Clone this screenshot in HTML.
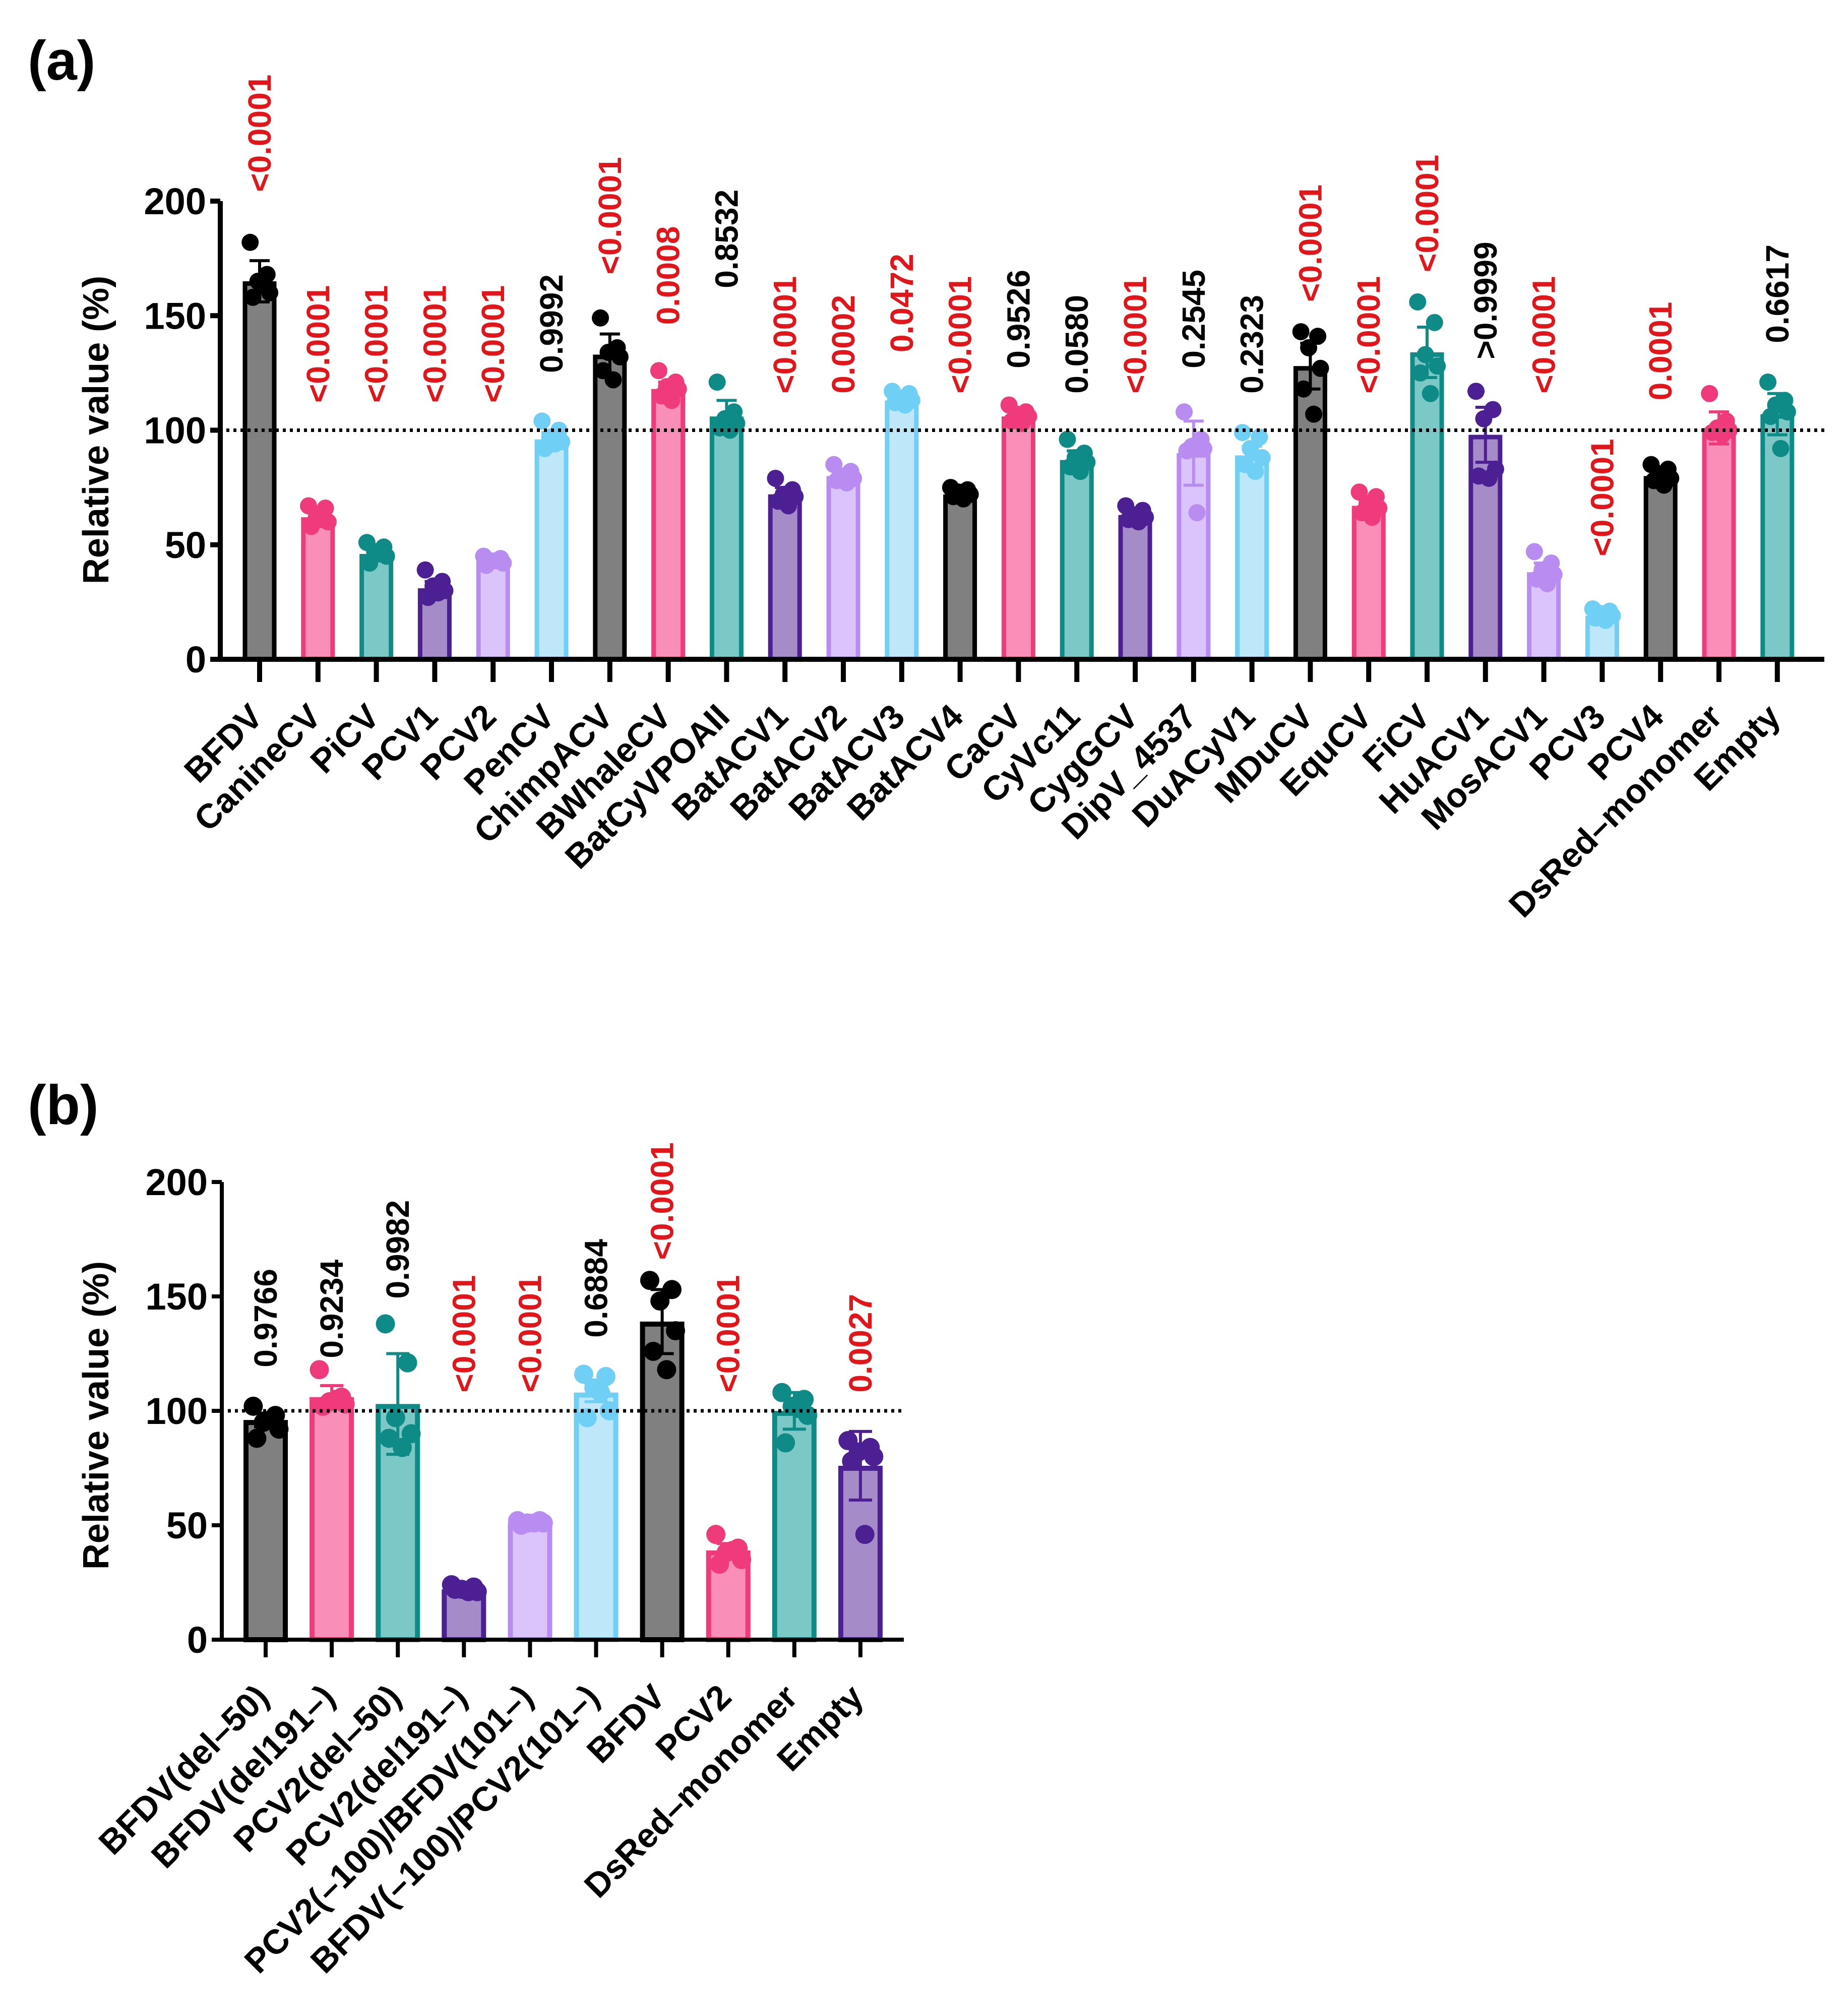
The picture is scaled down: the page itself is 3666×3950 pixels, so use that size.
<!DOCTYPE html>
<html><head><meta charset="utf-8"><style>
html,body{margin:0;padding:0;background:#fff;}
svg{display:block;font-family:"Liberation Sans",Arial,sans-serif;font-weight:bold;}
</style></head><body>
<svg id="fig" width="3666" height="3950" viewBox="0 0 3666 3950" xmlns="http://www.w3.org/2000/svg">
<rect width="3666" height="3950" fill="#fff"/>
<text x="55" y="158" font-size="110">(a)</text>
<text x="55" y="2230" font-size="110">(b)</text>
<g id="pa"></g>
<g id="pb"></g>
</svg>
<script>
const catsA = ["BFDV","CanineCV","PiCV","PCV1","PCV2","PenCV","ChimpACV","BWhaleCV","BatCyVPOAII","BatACV1","BatACV2","BatACV3","BatACV4","CaCV","CyVc11","CygGCV","DipV_4537","DuACyV1","MDuCV","EquCV","FiCV","HuACV1","MosACV1","PCV3","PCV4","DsRed\u2013monomer","Empty"];
const meansA = [165,62,46,31,43,96,133,118,106,72,80,113,72,106,87,63,90,89,128,67,134,98,38,19,80,101,107];
const errA = [9,4,2,3,2,3,9,3,7,3,2,2,1,2,4,2,14,4,10,3,11,12,4,2,2,7,9];
const pointsA = [[182,168,165,160,158,163],[67,66,62,60,58,63],[51,49,47,45,42,46],[39,34,32,30,27,29],[45,44,43,42,41,43],[104,100,97,95,92,94],[149,136,134,132,126,122],[126,121,119,118,115,113],[121,108,105,103,101,100],[79,74,72,71,69,67],[85,82,80,79,78,77],[117,116,114,113,112,111],[75,74,73,72,71,70],[111,108,107,106,104,103],[96,90,88,86,84,82],[67,65,63,62,61,60],[108,96,93,92,91,64],[99,97,92,88,85,82],[143,141,136,127,118,107],[73,71,68,66,64,62],[156,147,133,128,125,116],[117,109,105,83,80,79],[47,42,39,37,35,33],[22,21,20,19,18,17],[85,83,81,79,78,76],[116,104,101,100,99,98],[121,113,111,108,106,92]];
const pvalsA = ["<0.0001","<0.0001","<0.0001","<0.0001","<0.0001","0.9992","<0.0001","0.0008","0.8532","<0.0001","0.0002","0.0472","<0.0001","0.9526","0.0580","<0.0001","0.2545","0.2323","<0.0001","<0.0001","<0.0001",">0.9999","<0.0001","<0.0001","0.0001","","0.6617"];
const pRedA = [1,1,1,1,1,0,1,1,0,1,1,1,1,0,0,1,0,0,1,1,1,0,1,1,1,0,0];
const pLabelAtA = [204,112,112,112,112,125,168,146,162,116,116,134,116,127,116,116,127,116,156,116,169,131,116,45,113,0,138];

const catsB = ["BFDV(del\u201350)","BFDV(del191\u2013)","PCV2(del\u201350)","PCV2(del191\u2013)","PCV2(\u2013100)/BFDV(101\u2013)","BFDV(\u2013100)/PCV2(101\u2013)","BFDV","PCV2","DsRed\u2013monomer","Empty"];
const meansB = [96,106,103,22,51,108,139,39,100,76];
const errB = [3,5,22,1,1,4,14,3,8,15];
const pointsB = [[102,98,95,92,88,96],[118,106,104,103,102,105],[138,121,97,90,88,84],[24,23,22,21,22,21],[52,52,51,51,50,51],[116,115,110,100,97,108],[157,153,148,135,126,118],[46,40,38,35,33,39],[108,105,102,98,86,101],[87,84,82,80,78,46]];
const pvalsB = ["0.9766","0.9234","0.9982","<0.0001","<0.0001","0.6884","<0.0001","<0.0001","","0.0027"];
const pRedB = [0,0,0,1,1,0,1,1,0,1];
const pLabelAtB = [119,123,149,108,108,132,166,108,0,108];

const yTicks = [0,50,100,150,200];
const FILL = ["#808080","#f98fb8","#7cc8c6","#a68bc9","#dbc3fc","#bfe7fa"];
const STROKE = ["#000000","#ef3b7b","#0f8b87","#4c1f93","#b98cf2","#70cff4"];
const JIT = [-0.28,0.22,-0.05,0.3,-0.2,0.1];
const NS = "http://www.w3.org/2000/svg";
function mk(parent, tag, attrs, text){
  const e = document.createElementNS(NS, tag);
  for (const k in attrs) e.setAttribute(k, attrs[k]);
  if (text !== undefined) e.textContent = text;
  parent.appendChild(e);
  return e;
}
function drawPanel(g, cfg){
  const y = v => cfg.y0 - v*(cfg.y0 - cfg.y200)/200;
  const x = i => cfg.x0 + i*cfg.step;
  const bw = cfg.bw, sw = cfg.sw;
  let e = mk(g,'line',{x1:cfg.ax,y1:y(200),x2:cfg.ax,y2:cfg.y0+cfg.lw/2,stroke:'#000','stroke-width':cfg.lw});
   
  yTicks.forEach(t=>{
    const l = mk(g,'line',{x1:cfg.ax-cfg.tick,y1:y(t),x2:cfg.ax,y2:y(t),stroke:'#000','stroke-width':cfg.lw});
     
    const tx = mk(g,'text',{x:cfg.ax-cfg.tick-8,y:y(t)+26,'font-size':74,'text-anchor':'end'},String(t));
     
  });
  const yt = mk(g,'text',{x:0,y:0,'font-size':72,'text-anchor':'middle',transform:`translate(${cfg.titleX},${cfg.titleY}) rotate(-90)`},'Relative value (%)');
   
  cfg.cats.forEach((c,i)=>{
    const cx = x(i), ci = i%6;
    const m = cfg.means[i];
    const b = mk(g,'rect',{x:cx-bw/2+sw/2,y:y(m)+sw/2,width:bw-sw,height:y(0)-y(m)-sw/2,fill:FILL[ci],stroke:STROKE[ci],'stroke-width':sw});
     
    const hi = m+cfg.err[i], lo = m-cfg.err[i];
    const eb = mk(g,'path',{d:`M${cx},${y(lo)}V${y(hi)}M${cx-cfg.cap/2},${y(hi)}H${cx+cfg.cap/2}M${cx-cfg.cap/2},${y(lo)}H${cx+cfg.cap/2}`,stroke:STROKE[ci],'stroke-width':cfg.ew,fill:'none'});
     
    cfg.pts[i].forEach((p,k)=>{
      const d = mk(g,'circle',{cx:cx+JIT[k%6]*bw,cy:y(p),r:cfg.r,fill:STROKE[ci]});
       
    });
    const tk = mk(g,'line',{x1:cx,y1:cfg.y0,x2:cx,y2:cfg.y0+cfg.xtick,stroke:'#000','stroke-width':cfg.lw});
     
    const xl = mk(g,'text',{x:0,y:0,'font-size':68,'text-anchor':'end',transform:`translate(${cx+10},${cfg.y0+cfg.xlab}) rotate(-45)`},c);
     
    if (cfg.pv[i]) {
      const pt = mk(g,'text',{x:0,y:0,'font-size':64,'text-anchor':'start',fill:cfg.pr[i]?'#e0161b':'#000',transform:`translate(${cx+22},${y(cfg.pat[i])}) rotate(-90)`},cfg.pv[i]);
       
    }
  });
  const rl = mk(g,'line',{x1:cfg.ax+12,y1:y(100),x2:cfg.xend,y2:y(100),stroke:'#000','stroke-width':7,'stroke-dasharray':'6 8','stroke-linecap':'butt'});
   
  const xa = mk(g,'line',{x1:cfg.ax-cfg.lw/2,y1:cfg.y0,x2:cfg.xend,y2:cfg.y0,stroke:'#000','stroke-width':cfg.lw});
   
}
drawPanel(document.getElementById('pa'),{cats:catsA,means:meansA,err:errA,pts:pointsA,pv:pvalsA,pr:pRedA,pat:pLabelAtA,
  y0:1308,y200:399,ax:437,x0:515,step:115.8,bw:67,sw:9,lw:10,tick:20,xtick:45,xlab:118,cap:40,ew:6,r:17,xend:3619,titleX:215,titleY:853});
drawPanel(document.getElementById('pb'),{cats:catsB,means:meansB,err:errB,pts:pointsB,pv:pvalsB,pr:pRedB,pat:pLabelAtB,
  y0:3253,y200:2345,ax:440,x0:527,step:131.1,bw:88,sw:10,lw:8,tick:20,xtick:35,xlab:118,cap:46,ew:6,r:19,xend:1793,titleX:215,titleY:2808});
</script>
</body></html>
